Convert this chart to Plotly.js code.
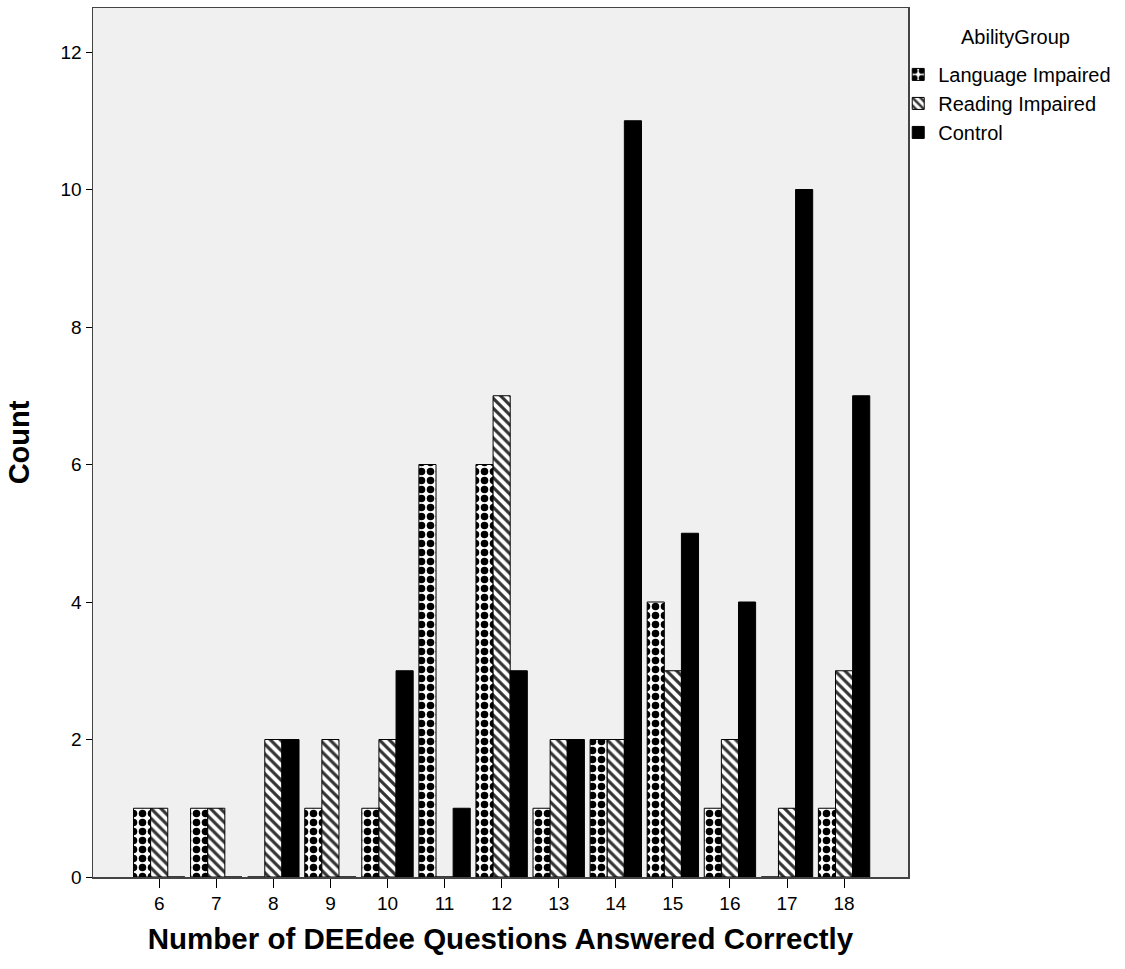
<!DOCTYPE html>
<html>
<head>
<meta charset="utf-8">
<script src="https://cdn.plot.ly/plotly-3.0.1.min.js"></script>
<style>html,body{margin:0;padding:0;background:#fff;}</style>
</head>
<body>
<div id="chart" style="width:1125px;height:969px;"></div>
<script>
const categories = ["6","7","8","9","10","11","12","13","14","15","16","17","18"];
const languageImpaired = [1,1,0,1,1,6,6,1,2,4,1,0,1];
const readingImpaired  = [1,1,2,2,2,0,7,2,2,3,2,1,3];
const control          = [0,0,2,0,3,1,3,2,11,5,4,10,7];
const seriesNames = ["Language Impaired","Reading Impaired","Control"];
const legendTitle = "AbilityGroup";

const FONT = "Liberation Sans, Arial, sans-serif";
const line = {color:"#000", width:1};

const traces = [
  {type:"bar", name:seriesNames[0], x:categories, y:languageImpaired,
   marker:{color:"#fff", line:line, pattern:{shape:".", fgcolor:"#000", bgcolor:"#fff", size:9, solidity:0.55}}},
  {type:"bar", name:seriesNames[1], x:categories, y:readingImpaired,
   marker:{color:"#fff", line:line, pattern:{shape:"\\", fgcolor:"#333", bgcolor:"#fff", size:7, solidity:0.45}}},
  {type:"bar", name:seriesNames[2], x:categories, y:control,
   marker:{color:"#000", line:line}}
];

const layout = {
  width:1125, height:969,
  margin:{l:93, r:217, t:8, b:92},
  paper_bgcolor:"#fff", plot_bgcolor:"#f0f0f0",
  barmode:"group", bargap:0.1, bargroupgap:0,
  font:{family:FONT, color:"#000"},
  showlegend:true,
  legend:{x:0.988, xanchor:"left", y:0.946, yanchor:"top", bgcolor:"rgba(0,0,0,0)",
    font:{family:FONT, size:20, color:"#000"}, itemwidth:30, tracegroupgap:0},
  annotations:[{text:legendTitle, xref:"paper", yref:"paper", x:1.132, y:0.967,
    xanchor:"center", yanchor:"middle", showarrow:false,
    font:{family:FONT, size:20, color:"#000"}}],
  xaxis:{type:"category", range:[-1.16, 13.12], showgrid:false, zeroline:false,
    showline:true, mirror:true, linecolor:"#444", linewidth:1.5,
    ticks:"outside", ticklen:9, tickcolor:"#000", tickwidth:1,
    tickfont:{family:FONT, size:19, color:"#000"},
    title:{text:"<b>Number of DEEdee Questions Answered Correctly</b>", font:{family:FONT, size:29.5, color:"#000"}, standoff:15}},
  yaxis:{range:[0, 12.64], tickvals:[0,2,4,6,8,10,12], showgrid:false, zeroline:false,
    showline:true, mirror:true, linecolor:"#444", linewidth:1.5,
    ticks:"outside", ticklen:6, tickcolor:"#000", tickwidth:1,
    tickfont:{family:FONT, size:19, color:"#000"},
    title:{text:"<b>Count</b>", font:{family:FONT, size:29, color:"#000"}, standoff:22}}
};

Plotly.newPlot("chart", traces, layout, {displayModeBar:false, staticPlot:true});
</script>
</body>
</html>
